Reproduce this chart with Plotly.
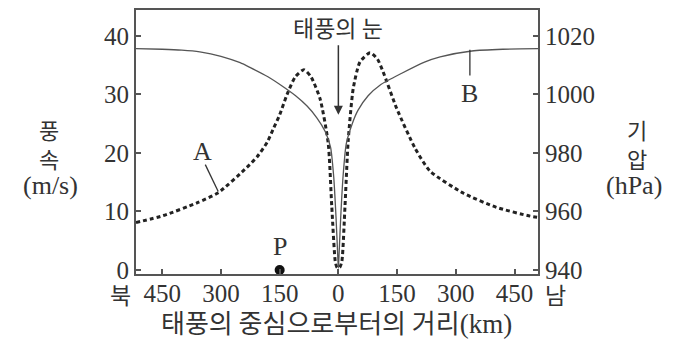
import plotly.graph_objects as go

# ---- data ----
wind_km = [-517, -447, -360, -307, -234, -208, -182, -167, -150, -131, -110, -88, -70, -47, -26, -17,
           -8, -4, 0, 4, 9, 17, 25, 38, 55, 81, 100, 114, 149, 196, 234, 320, 404, 490, 510]
wind_ms = [8.1, 9.3, 11.5, 13.2, 17.5, 19.3, 21.8, 24.0, 26.5, 30.0, 33.0, 34.2, 33.0, 29.3, 21.7, 11.0,
           1.5, 0.5, 0.3, 0.5, 1.5, 11.0, 22.0, 31.0, 35.5, 37.1, 36.0, 33.9, 27.6, 20.8, 16.9, 13.1, 10.7, 9.2, 9.0]

pres_km = [-517, -450, -400, -354, -300, -251, -226, -180, -141, -110, -80, -55, -34, -20, -12, -6, -2, 0,
           2, 6, 12, 20, 35, 50, 76, 107, 162, 220, 260, 341, 420, 510]
pres_hpa = [1015.6, 1015.4, 1015.1, 1014.5, 1013.0, 1010.8, 1009.2, 1006.0, 1002.6, 999.6, 996.0, 992.0,
            987.4, 982.0, 972.0, 958.0, 946.0, 940.6, 946.0, 958.0, 972.0, 983.0, 989.8, 994.5, 999.5,
            1003.2, 1007.2, 1011.0, 1012.8, 1014.8, 1015.4, 1015.6]

x_tickvals = [-450, -300, -150, 0, 150, 300, 450]
x_ticktext = ["450", "300", "150", "0", "150", "300", "450"]
wind_ticks = [0, 10, 20, 30, 40]
pres_ticks = [940, 960, 980, 1000, 1020]
point_P = (-150, 0)

x_range = [-517, 510]
y_range = [-0.68, 44.4]
y2_range = [940 + 2 * y_range[0], 940 + 2 * y_range[1]]

SERIF = "Liberation Serif"
KR = "Noto Sans CJK KR"
TXT = "#333333"

fig = go.Figure()
fig.add_trace(go.Scatter(x=pres_km, y=pres_hpa, yaxis="y2", mode="lines",
                         line=dict(color="#555555", width=1.3, shape="spline", smoothing=0.6),
                         showlegend=False, hoverinfo="skip"))
fig.add_trace(go.Scatter(x=wind_km, y=wind_ms, mode="lines",
                         line=dict(color="#222222", width=3, dash="4px,3px", shape="spline", smoothing=0.6),
                         showlegend=False, hoverinfo="skip"))
fig.add_trace(go.Scatter(x=[point_P[0]], y=[point_P[1]], mode="markers",
                         marker=dict(color="#111111", size=10), cliponaxis=False,
                         showlegend=False, hoverinfo="skip"))

axis_common = dict(showline=True, linecolor="#555555", linewidth=2, ticks="inside", ticklen=5,
                   tickcolor="#555555", tickwidth=1.5, showgrid=False, zeroline=False,
                   tickfont=dict(family=SERIF, size=25, color=TXT))

fig.update_layout(
    width=675, height=340,
    margin=dict(l=136, r=137, t=8, b=66),
    paper_bgcolor="white", plot_bgcolor="white",
    xaxis=dict(range=x_range, tickvals=x_tickvals, ticktext=x_ticktext, mirror=True,
               ticklabelstandoff=-4, **axis_common),
    yaxis=dict(range=y_range, tickvals=wind_ticks, **axis_common),
    yaxis2=dict(range=y2_range, tickvals=pres_ticks, overlaying="y", side="right", **axis_common),
)

anns = []
anns.append(dict(x=-348, y=20.3, xref="x", yref="y", text="A", showarrow=False,
                 font=dict(family=SERIF, size=26, color=TXT)))
anns.append(dict(x=336, y=30.2, xref="x", yref="y", text="B", showarrow=False,
                 font=dict(family=SERIF, size=26, color=TXT)))
anns.append(dict(x=point_P[0], y=4.0, xref="x", yref="y", text="P", showarrow=False,
                 font=dict(family=SERIF, size=26, color=TXT)))
anns.append(dict(x=0, y=26.5, xref="x", yref="y", text="태풍의 눈", showarrow=True,
                 ax=0, ay=-88, arrowhead=2, arrowsize=1.2, arrowwidth=1.5, arrowcolor="#333333",
                 font=dict(family=KR, size=23, color=TXT)))

def px(xp, yp):
    return (xp - 136) / 402.0, (274 - yp) / 266.0

for text, (xp, yp), fam, size in [
    ("풍<br>속", (49, 143), KR, 22),
    ("(m/s)", (50, 185), SERIF, 26),
    ("기<br>압", (637, 143), KR, 22),
    ("(hPa)", (634, 185), SERIF, 26),
    ("북", (120, 294), KR, 23),
    ("남", (555, 294), KR, 23),
]:
    xx, yy = px(xp, yp)
    anns.append(dict(x=xx, y=yy, xref="paper", yref="paper", text=text, showarrow=False,
                     xanchor="center", yanchor="middle", borderpad=0,
                     font=dict(family=fam, size=size, color=TXT)))

xx, yy = px(336, 322)
anns.append(dict(x=xx, y=yy, xref="paper", yref="paper", showarrow=False, xanchor="center", yanchor="middle",
                 text="태풍의 중심으로부터의 거리<span style=\"font-family:'Liberation Serif';font-size:27px\">(km)</span>",
                 font=dict(family=KR, size=26, color=TXT)))
fig.update_layout(annotations=anns)

fig.add_shape(type="line", xref="x", yref="y", x0=-340, y0=18.0, x1=-307, y1=13.4,
              line=dict(color="#333333", width=1.3))
fig.add_shape(type="line", xref="x", yref="y", x0=336, y0=37.6, x1=336, y1=33.2,
              line=dict(color="#333333", width=1.3))

fig.write_html("out.html", config={"displayModeBar": False},
               post_script="document.body.style.margin='0';document.body.style.overflow='hidden';")
